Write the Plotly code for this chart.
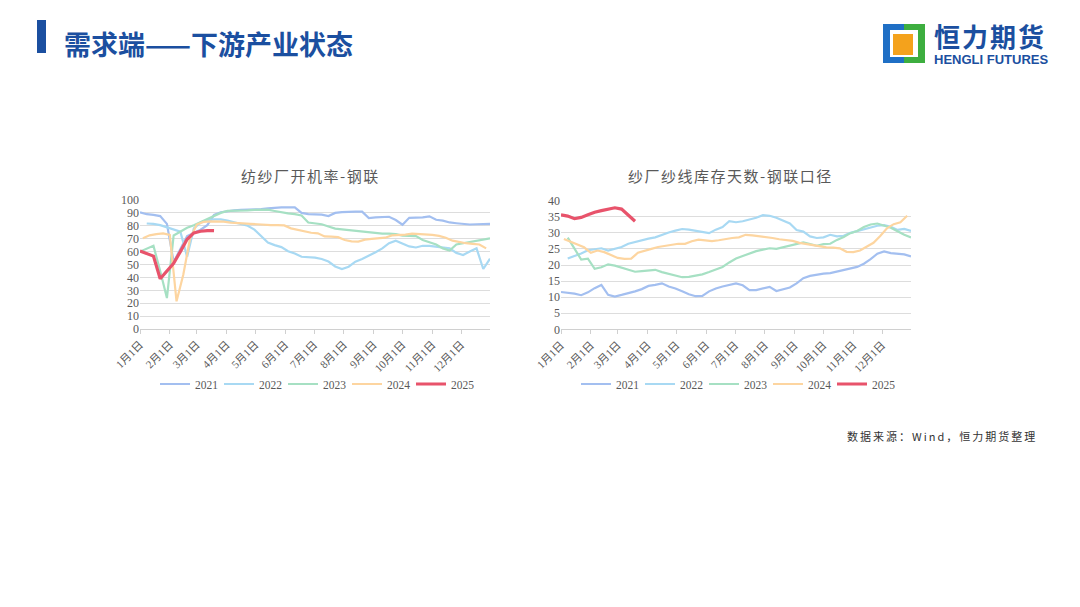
import pandas as pd
import plotly.graph_objects as go

# ---------------- data ----------------
weeks = pd.date_range("2021-01-01", periods=53, freq="7D")          # common calendar (month-day)
weeks_2024 = pd.date_range("2021-01-04", periods=52, freq="7D")     # 2024 weekly dates shifted
weeks_2025 = weeks[:12]
month_ticks = [f"2021-{m:02d}-01" for m in range(1, 13)]
month_labels = [f"{m}月1日" for m in range(1, 13)]
years = ["2021", "2022", "2023", "2024", "2025"]
N = None

# 纺纱厂开机率-钢联 (%)
util_2021 = [90.4, 89, 88.5, 87.5, 81.5, 52, 62, 72, 74.5, 77,
             80.5, 88.5, 90.5, 91.5, 92, 92.3, 92.5, 92.5, 93, 93.5,
             94, 94.3, 94.3, 94.3, 90, 89, 88.8, 88.6, 87.6, 90,
             90.6, 91, 91, 91, 86, 86.5, 87, 87, 84.5, 80.8,
             86.2, 86.3, 86.5, 87.3, 84.7, 84, 82.6, 82, 81.3, 81,
             81.2, 81.4, 81.5]
util_2022 = [N, 81.8, 81.5, 80.5, 79, 77, 75.5, 56, 78, 82.5,
             84.5, 85, 85, 84, 82.5, 81, 80, 77, 72, 67,
             65, 63.5, 60.3, 58.5, 56, 55.6, 55.3, 54.3, 52.3, 48.5,
             46.5, 48.3, 52.2, 54.3, 56.8, 59.5, 62.5, 66.5, 68.5, 66,
             64, 63.2, 64.5, 64.5, 63.8, 63.3, 62.5, 59, 57.4, 60,
             62.5, 46.5, 54.5]
util_2023 = [60, 62.5, 64.5, 45, 24, 72.5, 75.5, 78.5, 80.5, 83,
             85.5, 87.5, 90, 91.5, 91.5, 92, 92, 92.3, 92.5, 92.5,
             91.5, 90.3, 89.6, 89, 88, 82.5, 82, 81.2, 79.5, 77.8,
             77.3, 76.8, 76, 75.4, 75.1, 74.5, 74, 74, 73.5, 72.4,
             72.4, 72, 69, 67.5, 65.5, 62.5, 60.8, 65.5, 66.4, 67.3,
             68.5, 69.5, 70.2]
util_2024 = [70.3, 72.6, 73.5, 74.1, 73, 21.5, 42, 70, 81, 83,
             83.5, 83.5, 83.2, 82.5, 82, 81.7, 81.5, 81.2, 80.8, 80.6,
             80.6, 80.3, 78, 76.7, 75.8, 74.6, 74.2, 71.8, 71.6, 71.2,
             69, 68, 67.8, 69.3, 69.8, 70.2, 70.8, 72.6, 72.7, 73.2,
             73.9, 73.6, 73.4, 73, 72.2, 70.7, 68.5, 67.3, 66.5, 66,
             65.5, 62.5]
util_2025 = [60.5, 58.3, 56.5, 39, 45, 51, 60, 69.5, 74.5, 75.8, 76.3, 76.2]

# 纱厂纱线库存天数-钢联口径 (天)
days_2021 = [11.6, 11.4, 11.1, 10.6, 11.5, 12.8, 13.8, 10.7, 10.2, 10.7,
             11.2, 11.8, 12.5, 13.5, 13.8, 14.3, 13.3, 12.7, 11.8, 10.9,
             10.3, 10.4, 11.8, 12.7, 13.3, 13.8, 14.3, 13.7, 12.2, 12.2,
             12.8, 13.2, 11.9, 12.5, 13.0, 14.3, 15.9, 16.6, 17.0, 17.3,
             17.5, 18.0, 18.4, 18.8, 19.4, 20.4, 21.8, 23.5, 24.2, 23.7,
             23.5, 23.3, 22.7]
days_2022 = [N, 22.0, 22.7, 23.6, 24.6, 25.0, 25.2, 24.5, 25.1, 25.6,
             26.6, 27.2, 27.8, 28.2, 28.6, 29.4, 30.1, 30.7, 31.2, 31.0,
             30.7, 30.3, 29.9, 31.0, 31.8, 33.6, 33.3, 33.6, 34.1, 34.7,
             35.5, 35.3, 34.7, 33.9, 32.9, 30.9, 30.4, 28.9, 28.4, 28.6,
             29.4, 28.9, 29.1, 30.0, 30.5, 31.2, 31.7, 32.2, 32.4, 31.9,
             30.9, 31.2, 30.6]
days_2023 = [N, 28.5, 25.0, 21.7, 22.0, 18.8, 19.3, 20.2, 19.8, 19.2,
             18.5, 17.9, 18.1, 18.3, 18.5, 17.8, 17.3, 16.8, 16.2, 16.3,
             16.7, 17.1, 17.8, 18.7, 19.4, 20.8, 22.0, 22.8, 23.6, 24.3,
             24.8, 25.2, 25.0, 25.5, 26.0, 26.5, 27.0, 26.5, 26.0, 26.5,
             26.6, 27.8, 28.7, 29.9, 30.6, 31.8, 32.6, 32.9, 32.3, 31.6,
             30.5, 29.4, 28.6]
days_2024 = [28.1, 27.2, 26.4, 25.5, 23.8, 24.5, 24.0, 23.1, 22.2, 21.9,
             22.0, 23.8, 24.5, 25.0, 25.6, 26.0, 26.4, 26.6, 26.6, 27.4,
             27.9, 27.6, 27.4, 27.7, 28.1, 28.4, 28.6, 29.4, 29.2, 29.0,
             28.8, 28.4, 28.0, 27.7, 27.5, 26.9, 26.5, 26.1, 25.7, 25.5,
             25.4, 25.2, 24.1, 24.0, 24.5, 25.6, 26.9, 29.0, 31.4, 32.7,
             33.3, 35.3]
days_2025 = [35.6, 35.2, 34.4, 34.8, 35.6, 36.4, 36.9, 37.4, 37.8, 37.4, 35.6, 33.6]

# ---------------- styling ----------------
W, H = 1080, 607
colors = {"2021": "#A3BFF0", "2022": "#A8D9F3", "2023": "#A6E0C3",
          "2024": "#FDD5A0", "2025": "#E8536B"}
widths = {"2021": 2.2, "2022": 2.2, "2023": 2.2, "2024": 2.2, "2025": 3.2}
GRAY = "#595959"
BLUE = "#1B4FA0"
NUM_FONT = "Liberation Serif, Noto Sans CJK SC"
CJK_FONT = "Noto Sans CJK SC"


def px(x):
    return x / W


def py(y):
    return 1 - y / H


fig = go.Figure()

left_series = [
    ("2021", weeks, util_2021), ("2022", weeks, util_2022), ("2023", weeks, util_2023),
    ("2024", weeks_2024, util_2024), ("2025", weeks_2025, util_2025),
]
right_series = [
    ("2021", weeks, days_2021), ("2022", weeks, days_2022), ("2023", weeks, days_2023),
    ("2024", weeks_2024, days_2024), ("2025", weeks_2025, days_2025),
]

for name, xs, ys in left_series:
    fig.add_trace(go.Scatter(x=xs, y=ys, name=name, mode="lines",
                             line=dict(color=colors[name], width=widths[name]),
                             xaxis="x", yaxis="y", legend="legend", connectgaps=False))
for name, xs, ys in right_series:
    fig.add_trace(go.Scatter(x=xs, y=ys, name=name, mode="lines",
                             line=dict(color=colors[name], width=widths[name]),
                             xaxis="x2", yaxis="y2", legend="legend2", connectgaps=False))

xcommon = dict(type="date", range=["2021-01-01", "2021-12-31"], tickvals=month_ticks,
               ticktext=month_labels, tickangle=-45, showgrid=False, showline=True,
               linecolor="#D0D0D0", linewidth=1, ticks="outside", ticklen=4,
               tickcolor="#D0D0D0", tickfont=dict(family=NUM_FONT, size=11, color=GRAY),
               zeroline=False, fixedrange=True, automargin=False)
ycommon = dict(showgrid=True, gridcolor="#DDDDDD", gridwidth=1.3, zeroline=False,
               showline=False, ticks="", tickfont=dict(family=NUM_FONT, size=12, color=GRAY),
               fixedrange=True, automargin=False)

legend_common = dict(orientation="h", xanchor="center", yanchor="middle",
                     font=dict(family=NUM_FONT, size=11.5, color=GRAY),
                     bgcolor="rgba(0,0,0,0)", entrywidth=19, entrywidthmode="pixels",
                     itemwidth=30)

fig.update_layout(
    width=W, height=H, autosize=False,
    margin=dict(l=0, r=0, t=0, b=0, pad=0, autoexpand=False),
    paper_bgcolor="white", plot_bgcolor="white",
    showlegend=True,
    xaxis=dict(domain=[px(140), px(490)], anchor="y", **xcommon),
    yaxis=dict(domain=[py(329), py(200)], anchor="x", range=[0, 100], dtick=10, **ycommon),
    xaxis2=dict(domain=[px(561), px(911)], anchor="y2", **xcommon),
    yaxis2=dict(domain=[py(329.3), py(200.7)], anchor="x2", range=[0, 40], dtick=5, **ycommon),
    legend=dict(x=px(315), y=py(384), **legend_common),
    legend2=dict(x=px(736), y=py(384), **legend_common),
)

annotations = [
    dict(text="<span style='letter-spacing:1.5px'>纺纱厂开机率-钢联</span>", x=px(310), y=py(176),
         xref="paper", yref="paper", xanchor="center", yanchor="middle", showarrow=False,
         font=dict(family=CJK_FONT, size=15, color=GRAY)),
    dict(text="<span style='letter-spacing:1.5px'>纱厂纱线库存天数-钢联口径</span>", x=px(730), y=py(176),
         xref="paper", yref="paper", xanchor="center", yanchor="middle", showarrow=False,
         font=dict(family=CJK_FONT, size=15, color=GRAY)),
    dict(text="<b>需求端——下游产业状态</b>", x=px(62), y=py(44), xref="paper", yref="paper",
         xanchor="left", yanchor="middle", showarrow=False,
         font=dict(family=CJK_FONT, size=27, color=BLUE)),
    dict(text="<b><span style='letter-spacing:2px'>恒力期货</span></b>", x=px(932), y=py(36), xref="paper", yref="paper",
         xanchor="left", yanchor="middle", showarrow=False,
         font=dict(family=CJK_FONT, size=26, color=BLUE)),
    dict(text="<b>HENGLI FUTURES</b>", x=px(932), y=py(59), xref="paper", yref="paper",
         xanchor="left", yanchor="middle", showarrow=False,
         font=dict(family="Liberation Sans, Arial", size=13, color=BLUE)),
    dict(text="<span style='letter-spacing:2px'>数据来源：Wind，恒力期货整理</span>", x=px(845), y=py(436),
         xref="paper", yref="paper", xanchor="left", yanchor="middle", showarrow=False,
         font=dict(family=CJK_FONT, size=11, color="#333333")),
]
fig.update_layout(annotations=annotations)

shapes = [
    # header accent bar
    dict(type="rect", xref="paper", yref="paper", x0=px(37), x1=px(46), y0=py(53), y1=py(20),
         fillcolor=BLUE, line=dict(width=0)),
    # logo icon
    dict(type="rect", xref="paper", yref="paper", x0=px(883), x1=px(904), y0=py(63), y1=py(24),
         fillcolor="#1F6FC5", line=dict(width=0)),
    dict(type="rect", xref="paper", yref="paper", x0=px(904), x1=px(925), y0=py(63), y1=py(24),
         fillcolor="#3DAE3F", line=dict(width=0)),
    dict(type="rect", xref="paper", yref="paper", x0=px(890), x1=px(918), y0=py(57), y1=py(30),
         fillcolor="white", line=dict(width=0)),
    dict(type="rect", xref="paper", yref="paper", x0=px(893), x1=px(913), y0=py(55), y1=py(34),
         fillcolor="#F4A21C", line=dict(width=0)),
]
fig.update_layout(shapes=shapes)

fig.write_html("out.html", config={"displayModeBar": False},
               post_script="document.body.style.margin='0px';")
